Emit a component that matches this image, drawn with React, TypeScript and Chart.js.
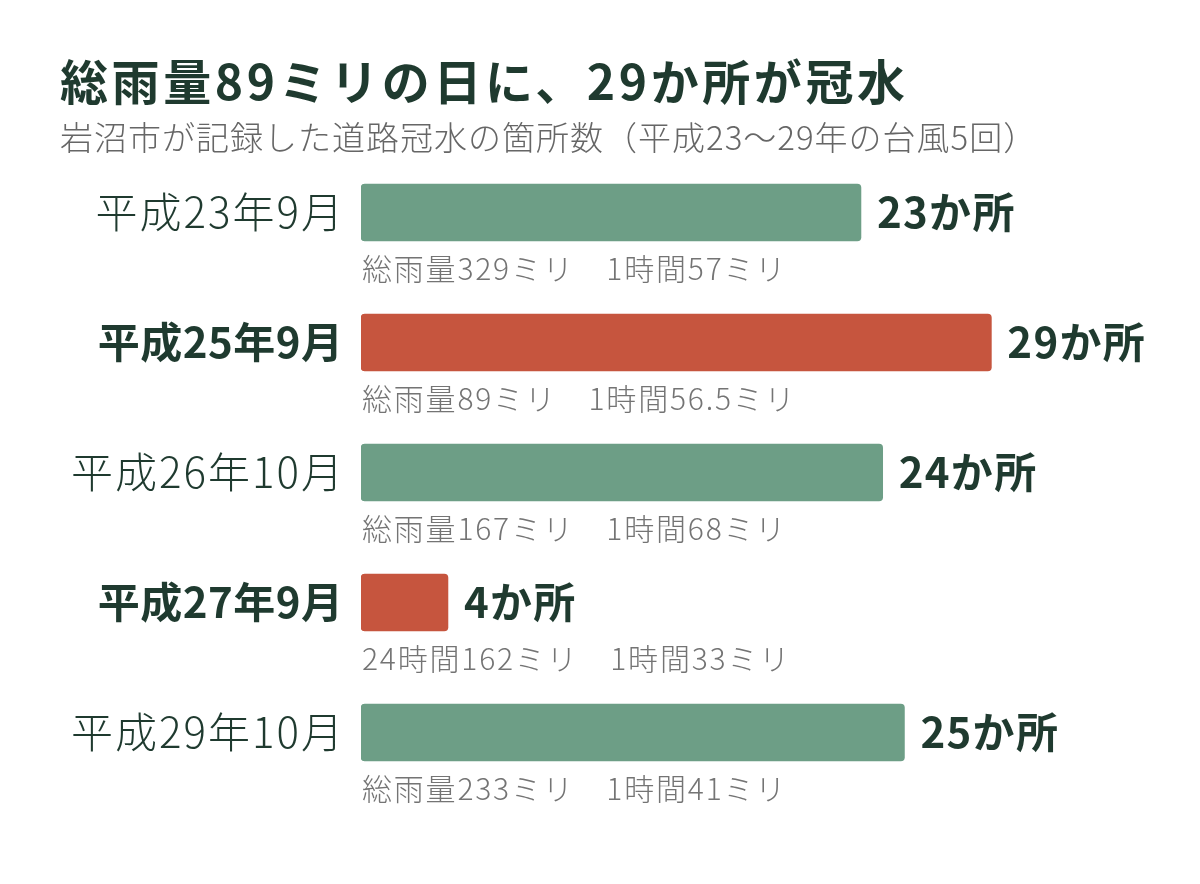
import React, { useEffect, useRef } from "react";
import { Chart, registerables } from "chart.js";

Chart.register(...registerables);

const TITLE = "総雨量89ミリの日に、29か所が冠水";
const SUBTITLE = "岩沼市が記録した道路冠水の箇所数（平成23〜29年の台風5回）";
const categories = ["平成23年9月", "平成25年9月", "平成26年10月", "平成27年9月", "平成29年10月"];
const counts = [23, 29, 24, 4, 25];
const valueLabels = ["23か所", "29か所", "24か所", "4か所", "25か所"];
const highlighted = [false, true, false, true, false];
const rainNotes = [
  "総雨量329ミリ　1時間57ミリ",
  "総雨量89ミリ　1時間56.5ミリ",
  "総雨量167ミリ　1時間68ミリ",
  "24時間162ミリ　1時間33ミリ",
  "総雨量233ミリ　1時間41ミリ",
];

const GREEN = "#6d9e86";
const RED = "#c6553e";
const DARK = "#1f3a2f";
const GRAY = "#747474";
const FONT = '"Noto Sans CJK JP", "Noto Sans", sans-serif';

const textPlugin = {
  id: "textPlugin",
  afterDraw(chart: any) {
    const ctx = chart.ctx;
    const xs = chart.scales.x;
    const ys = chart.scales.y;
    ctx.save();
    ctx.textBaseline = "middle";
    // title
    ctx.fillStyle = DARK;
    ctx.textAlign = "left";
    ctx.letterSpacing = "3.6px";
    ctx.font = `bold 48px ${FONT}`;
    ctx.fillText(TITLE, 60, 82);
    ctx.fillStyle = "#666666";
    ctx.letterSpacing = "1px";
    ctx.font = `300 33px ${FONT}`;
    ctx.fillText(SUBTITLE, 60, 137);

    categories.forEach((cat, i) => {
      const y = ys.getPixelForValue(i);
      const xEnd = xs.getPixelForValue(counts[i]);
      const x0 = xs.getPixelForValue(0);
      ctx.fillStyle = DARK;
      ctx.textAlign = "right";
      const ls = highlighted[i] ? 0.5 : 2;
      ctx.letterSpacing = `${ls}px`;
      ctx.font = `${highlighted[i] ? "bold" : "300"} 42px ${FONT}`;
      ctx.fillText(cat, x0 - 18 + ls, y);
      ctx.textAlign = "left";
      ctx.letterSpacing = "1.3px";
      ctx.font = `bold 42px ${FONT}`;
      ctx.fillText(valueLabels[i], xEnd + 16, y);
      ctx.fillStyle = GRAY;
      ctx.letterSpacing = "1.8px";
      ctx.font = `300 30px ${FONT}`;
      ctx.fillText(rainNotes[i], x0 + 1, y + 56);
    });
    ctx.restore();
  },
};

export default function App() {
  const ref = useRef<HTMLCanvasElement>(null);
  useEffect(() => {
    if (!ref.current) return;
    const chart = new Chart(ref.current, {
      type: "bar",
      data: {
        labels: categories,
        datasets: [
          {
            data: counts,
            backgroundColor: highlighted.map((h) => (h ? RED : GREEN)),
            borderRadius: 4,
            borderSkipped: false,
            barThickness: 57,
          },
        ],
      },
      options: {
        indexAxis: "y",
        animation: false,
        responsive: false,
        maintainAspectRatio: false,
        layout: { padding: { left: 361, right: 13, top: 147.5, bottom: 86.5 } },
        scales: {
          x: { display: false, min: 0, max: 38 },
          y: { display: false, offset: true },
        },
        plugins: { legend: { display: false }, tooltip: { enabled: false }, title: { display: false } },
      },
      plugins: [textPlugin],
    });
    return () => chart.destroy();
  }, []);
  return (
    <div style={{ position: "fixed", left: 0, top: 0, width: 1200, height: 884, background: "#fff" }}>
      <canvas ref={ref} width={1200} height={884} style={{ width: 1200, height: 884 }} />
    </div>
  );
}
